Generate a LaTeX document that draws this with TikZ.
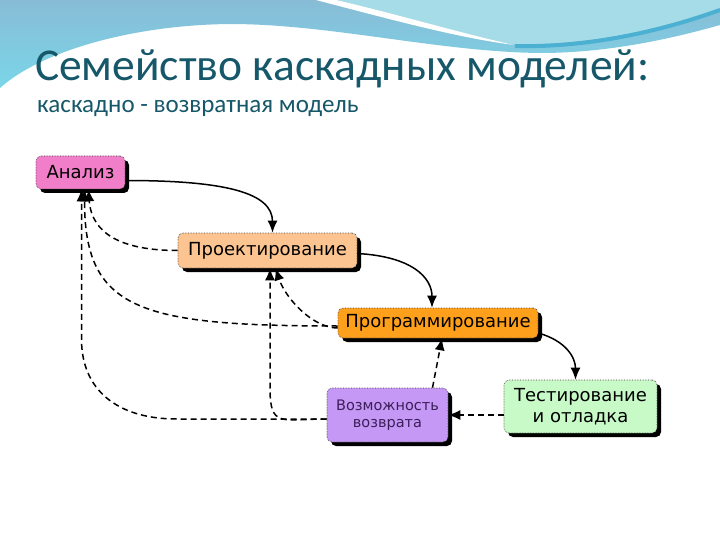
\documentclass[tikz,border=0pt]{standalone}
\usepackage{fontspec}
\setmainfont{Carlito}
\newfontfamily\boxfont{DejaVu Sans}
\usetikzlibrary{arrows.meta,calc,shadows}
\definecolor{titlec}{RGB}{22,88,106}
\definecolor{hdrtop}{RGB}{136,188,214}
\definecolor{hdrbot}{RGB}{122,214,232}
\definecolor{hdrlight}{RGB}{166,220,232}
\definecolor{hdrband}{RGB}{76,176,210}
\definecolor{cpink}{RGB}{240,126,200}
\definecolor{cpeach}{RGB}{252,196,144}
\definecolor{corange}{RGB}{255,160,28}
\definecolor{cgreen}{RGB}{200,250,200}
\definecolor{cviolet}{RGB}{196,152,244}
\definecolor{vtext}{RGB}{60,30,90}
\tikzset{
  box/.style={draw=black!75, densely dotted, line width=0.6pt, rounded corners=5pt,
    inner sep=0pt, align=center, font=\boxfont\fontsize{18}{21}\selectfont,
    drop shadow={shadow xshift=4pt,shadow yshift=-4pt,opacity=1,fill=black}},
  flow/.style={line width=1.5pt, -{Latex[length=12pt,width=10pt]}},
  back/.style={flow, dash pattern=on 6pt off 4pt},
  hdr/.style={font=\fontsize{45.5}{52}\selectfont, text=titlec, inner sep=0pt, anchor=base west},
  subhdr/.style={font=\fontsize{25}{30}\selectfont, text=titlec, inner sep=0pt, anchor=base west}
}
\begin{document}
\begin{tikzpicture}[x=1pt,y=-1pt]
\useasboundingbox (0,0) rectangle (720,540);
\fill[white] (0,0) rectangle (720,540);
% header waves
\shade[top color=hdrtop, bottom color=hdrbot] (0,0) -- (720,0) -- (720,25)
  .. controls (660,42) and (600,53) .. (540,53)
  .. controls (440,52) and (330,24) .. (230,24)
  .. controls (130,25) and (40,52) .. (0,88) -- cycle;
\fill[hdrlight] (320,0) .. controls (400,20) and (460,36) .. (512,44)
  .. controls (600,46) and (680,24) .. (720,8) -- (720,0) -- cycle;
\draw[hdrband, line width=4pt] (515,46) .. controls (595,48) and (670,28) .. (720,10);
\fill[white] (316,0) .. controls (400,22) and (460,38) .. (514,45)
  .. controls (460,33) and (400,15) .. (336,0) -- cycle;
% titles
\node[hdr] (title) at (35,81) {Семейство каскадных моделей:};
\node[subhdr] (sub) at (37,113) {каскадно - возвратная модель};
% boxes
\node[box, fill=cpink, minimum width=89pt, minimum height=33pt] (an) at (80.5,172.5) {Анализ};
\node[box, fill=cpeach, minimum width=179pt, minimum height=35pt] (pr) at (267.5,250.5) {Проектирование};
\node[box, fill=corange, minimum width=200pt, minimum height=30pt] (pg) at (438,323) {Программирование};
\node[box, fill=cgreen, minimum width=153pt, minimum height=53pt] (te) at (580.5,406.5) {Тестирование\\и отладка};
\node[box, fill=cviolet, text=vtext, minimum width=121pt, minimum height=54pt,
  font=\boxfont\fontsize{14.5}{17}\selectfont] (vm) at (387.5,415) {Возможность\\возврата};
% forward flow
\draw[flow] ([yshift=-8pt]an.east) .. controls +(100,0) and +(0,-40) .. ([xshift=5pt]pr.north);
\draw[flow] ([yshift=-3pt]pr.east) .. controls +(55,3) and +(0,-30) .. ([xshift=-6pt]pg.north);
\draw[flow] ([yshift=-10pt]pg.east) .. controls +(28,8) and +(0,-22) .. ([xshift=-5pt]te.north);
% returns
\draw[back] (vm.east -| te.west) -- (vm.east);
\draw[back] ([xshift=45pt]vm.north) -- ([xshift=4pt]pg.south);
\draw[back] (pr.west) .. controls +(-55,0) and +(3,45) .. ([xshift=8pt]an.south);
\draw[back] ([yshift=-3pt]pg.west) .. controls +(-200,0) and +(0,120) .. ([xshift=4pt]an.south);
\draw[back] ([yshift=-5pt]pg.west) .. controls +(-25,0) and +(10,30) .. ([xshift=8pt]pr.south);
\draw[back] ([yshift=-4pt]vm.west) .. controls +(-45,0) and +(0,40) .. ($(pr.south)+(2.5,120)$) -- ([xshift=2.5pt]pr.south);
\draw[back] ([yshift=-4pt]vm.west) -- ++(-150,0) .. controls +(-60,0) and +(0,50) .. ($(an.south)+(1,150)$) -- ([xshift=1pt]an.south);
\end{tikzpicture}
\end{document}
